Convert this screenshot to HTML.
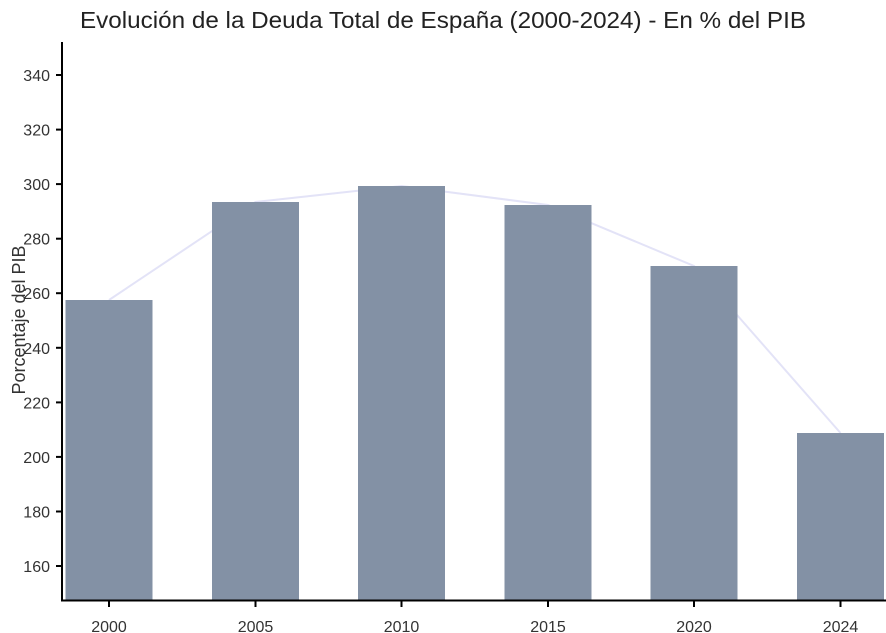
<!DOCTYPE html>
<html><head><meta charset="utf-8"><style>body{margin:0;background:#fff}svg{display:block}</style></head>
<body>
<svg width="886" height="633" xmlns="http://www.w3.org/2000/svg" font-family="Liberation Sans, sans-serif">
<rect width="886" height="633" fill="#fff"/>
<text x="443" y="28" text-anchor="middle" font-size="23" fill="#222" textLength="726" lengthAdjust="spacingAndGlyphs">Evolución de la Deuda Total de España (2000-2024) - En % del PIB</text>
<polyline points="109,300 255.5,202 401.5,186 548,205 694,266 840.5,433" fill="none" stroke="#e3e3f7" stroke-width="2"/>
<g fill="#8391a5">
<rect x="65.5" y="300" width="87" height="300"/>
<rect x="212" y="202" width="87" height="398"/>
<rect x="358" y="186" width="87" height="414"/>
<rect x="504.5" y="205" width="87" height="395"/>
<rect x="650.5" y="266" width="87" height="334"/>
<rect x="797" y="433" width="87" height="167"/>
</g>
<g stroke="#000" stroke-width="2">
<line x1="62" y1="42" x2="62" y2="601"/>
<line x1="61" y1="600.5" x2="886" y2="600.5"/>
<line x1="56" y1="75" x2="62" y2="75"/>
<line x1="56" y1="129.6" x2="62" y2="129.6"/>
<line x1="56" y1="184.1" x2="62" y2="184.1"/>
<line x1="56" y1="238.7" x2="62" y2="238.7"/>
<line x1="56" y1="293.2" x2="62" y2="293.2"/>
<line x1="56" y1="347.8" x2="62" y2="347.8"/>
<line x1="56" y1="402.4" x2="62" y2="402.4"/>
<line x1="56" y1="456.9" x2="62" y2="456.9"/>
<line x1="56" y1="511.5" x2="62" y2="511.5"/>
<line x1="56" y1="566" x2="62" y2="566"/>
<line x1="109" y1="601" x2="109" y2="607"/>
<line x1="255.5" y1="601" x2="255.5" y2="607"/>
<line x1="401.5" y1="601" x2="401.5" y2="607"/>
<line x1="548" y1="601" x2="548" y2="607"/>
<line x1="694" y1="601" x2="694" y2="607"/>
<line x1="840.5" y1="601" x2="840.5" y2="607"/>
</g>
<g font-size="16" fill="#333" text-anchor="end">
<text x="50" y="81">340</text>
<text x="50" y="135.6">320</text>
<text x="50" y="190.1">300</text>
<text x="50" y="244.7">280</text>
<text x="50" y="299.2">260</text>
<text x="50" y="353.8">240</text>
<text x="50" y="408.4">220</text>
<text x="50" y="462.9">200</text>
<text x="50" y="517.5">180</text>
<text x="50" y="572">160</text>
</g>
<g font-size="16" fill="#333" text-anchor="middle">
<text x="109" y="632">2000</text>
<text x="255.5" y="632">2005</text>
<text x="401.5" y="632">2010</text>
<text x="548" y="632">2015</text>
<text x="694" y="632">2020</text>
<text x="840.5" y="632">2024</text>
</g>
<text transform="translate(25,320) rotate(-90)" text-anchor="middle" font-size="18" fill="#333">Porcentaje del PIB</text>
</svg>
</body></html>
